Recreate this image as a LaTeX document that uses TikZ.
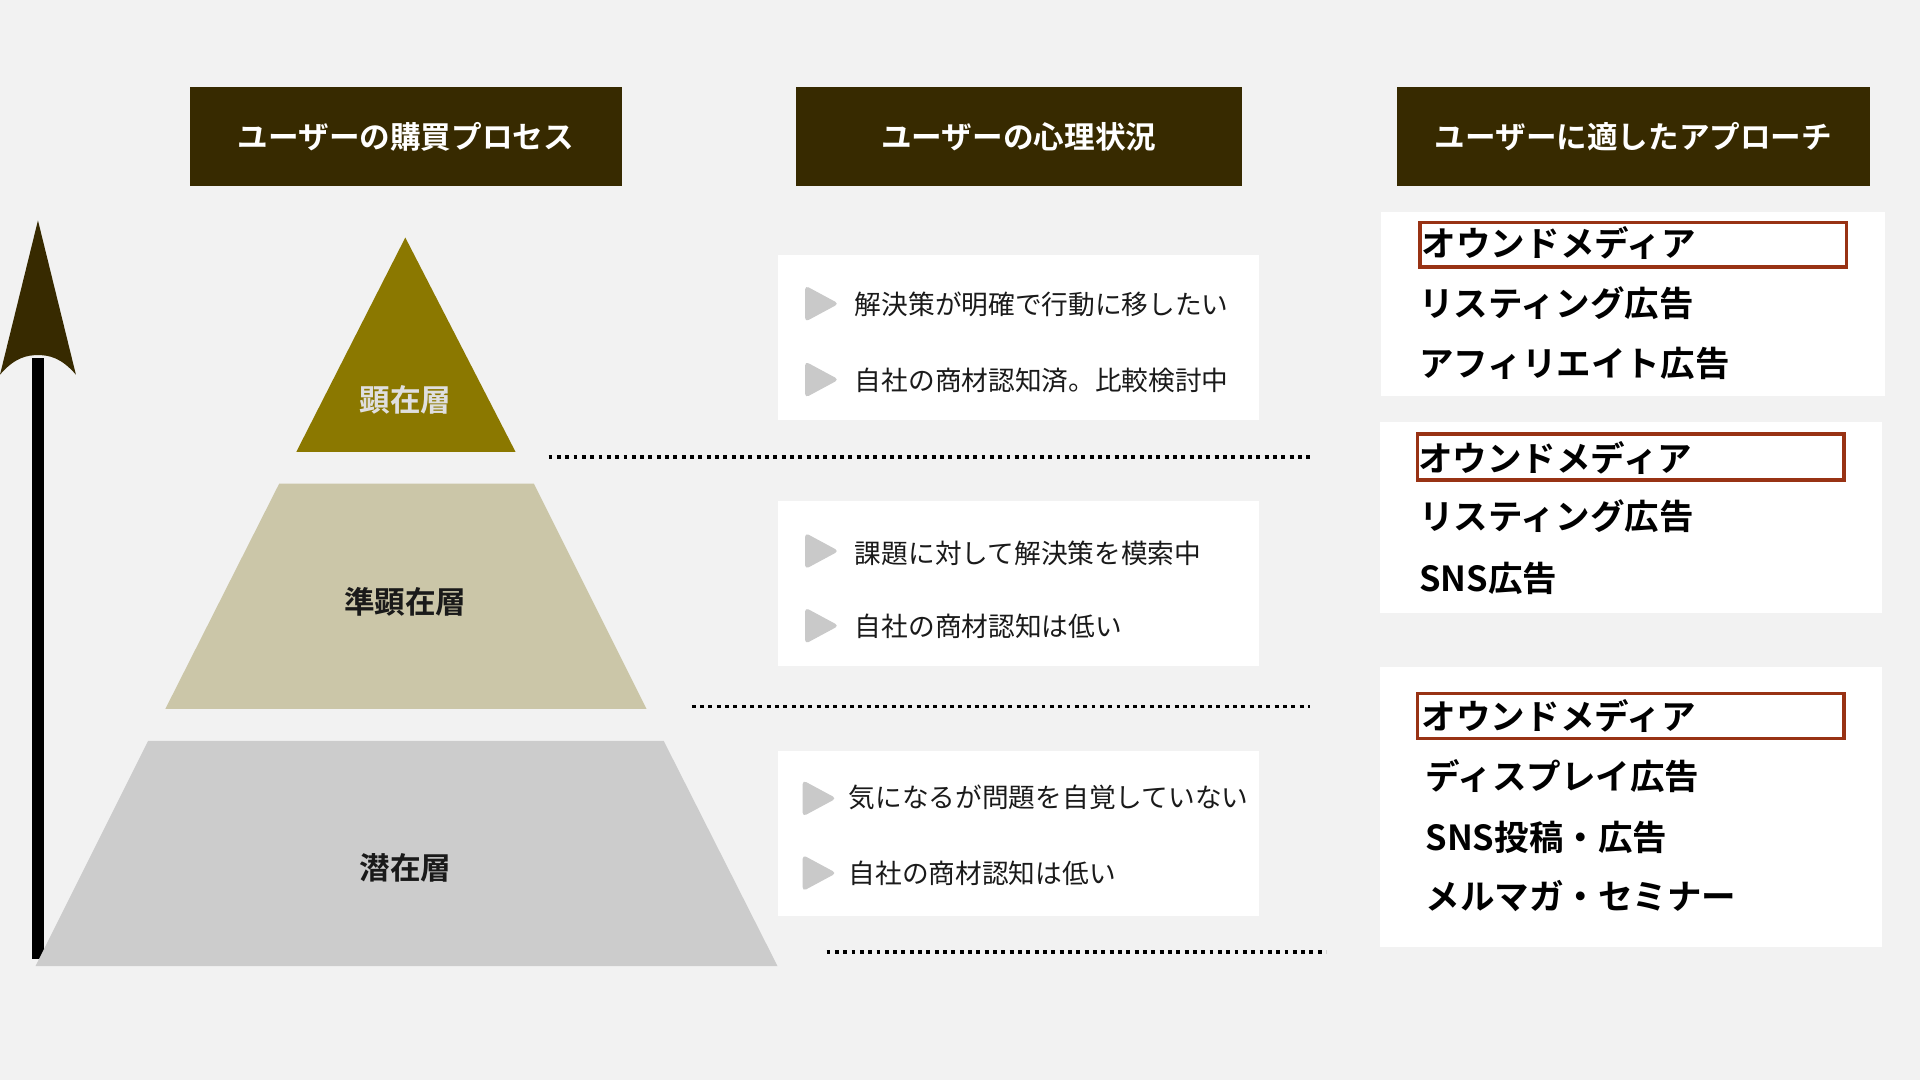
\documentclass[tikz,border=0pt]{standalone}
\usepackage{fontspec}
\newfontfamily\jp{Noto Sans CJK JP}
\newfontfamily\jpb{Noto Sans CJK JP Bold}
\definecolor{bg}{HTML}{F2F2F2}
\definecolor{hdr}{HTML}{372A00}
\definecolor{gold}{HTML}{8B7800}
\definecolor{sand}{HTML}{CBC6A8}
\definecolor{lgray}{HTML}{CCCCCC}
\definecolor{rust}{HTML}{983214}
\definecolor{bul}{HTML}{C9C9C9}
\definecolor{ink}{HTML}{1A1A1A}
\tikzset{
  hdrbox/.style={fill=hdr, draw=none},
  hdrtext/.style={font=\jpb\fontsize{25}{30}\selectfont, text=white, inner sep=0pt},
  wbox/.style={fill=white, draw=none},
  layertext/.style={font=\jpb\fontsize{25}{30}\selectfont, inner sep=0pt},
  mtext/.style={font=\jp\fontsize{21.8}{26}\selectfont, text=ink, inner sep=0pt, anchor=west, text height=0.88em, text depth=0.12em, yshift=-5pt},
  rtext/.style={font=\jpb\fontsize{28.2}{34}\selectfont, text=black, inner sep=0pt, anchor=west, text height=0.88em, text depth=0.12em, yshift=-7pt},
  redbox/.style={draw=rust, line width=2.8pt, fill=none},
  dotline/.style={line width=3.2pt, dash pattern=on 3.2pt off 3.6pt, black},
  bullet/.style={fill=bul, draw=bul, line width=1pt, rounded corners=2.5pt},
}
\begin{document}
\begin{tikzpicture}[x=1pt,y=-1pt]
\fill[bg] (0,0) rectangle (1568,882);
\useasboundingbox (0,0) rectangle (1568,882);

% headers
\fill[hdrbox] (155,71) rectangle (508,152);
\fill[hdrbox] (650,71) rectangle (1014,152);
\fill[hdrbox] (1141,71) rectangle (1527,152);
\node[hdrtext] (h1) at (331.5,112) {ユーザーの購買プロセス};
\node[hdrtext] (h2) at (832,112) {ユーザーの心理状況};
\node[hdrtext] (h3) at (1334,112) {ユーザーに適したアプローチ};

% arrow
\coordinate (arrbot) at (31,783);
\coordinate (arrtop) at (31,292);
\draw[line width=10pt, black] (arrbot) -- (arrtop);
\fill[hdr] (31,180) -- (62,306) .. controls (50,292) and (40,290) .. (31,290)
  .. controls (22,290) and (12,292) .. (0,306) -- cycle;

% pyramid
\fill[gold] (331,194) -- (421,369) -- (242,369) -- cycle;
\fill[sand] (228,395) -- (436,395) -- (528,579) -- (135,579) -- cycle;
\fill[lgray] (121,605) -- (542,605) -- (635,789) -- (29,789) -- cycle;
\node[layertext, text=bg!92!black] (l1) at (331,326.5) {顕在層};
\node[layertext, text=ink] (l2) at (331,491.5) {準顕在層};
\node[layertext, text=ink] (l3) at (331,708.5) {潜在層};

% dotted separators
\draw[dotline] (448,373) -- (1070,373);
\draw[dotline] (565,577) -- (1070,577);
\draw[dotline] (675,777.5) -- (1083,777.5);

% middle boxes
\fill[wbox] (635,208) rectangle (1028,343);
\fill[wbox] (635,409) rectangle (1028,544);
\fill[wbox] (635,613) rectangle (1028,748);

\foreach \yy/\xx in {248/658,310/658,450/658,511/658,652/656,713/656}{
  \fill[bullet] (\xx,\yy-14) -- (\xx+26,\yy) -- (\xx,\yy+14) -- cycle;
}
\node[mtext] (m1) at (698,248) {解決策が明確で行動に移したい};
\node[mtext] (m2) at (698,310) {自社の商材認知済。比較検討中};
\node[mtext] (m3) at (698,451) {課題に対して解決策を模索中};
\node[mtext] (m4) at (698,511) {自社の商材認知は低い};
\node[mtext] (m5) at (693,651) {気になるが問題を自覚していない};
\node[mtext] (m6) at (693,713) {自社の商材認知は低い};

% right boxes
\fill[wbox] (1128,173) rectangle (1539,323);
\fill[wbox] (1127,345) rectangle (1537,501);
\fill[wbox] (1127,545) rectangle (1537,773);

\draw[redbox] (1159.5,181.5) rectangle (1508,218);
\draw[redbox] (1157.5,354.5) rectangle (1506,392);
\draw[redbox] (1157.5,566.5) rectangle (1506,603);

\node[rtext] (r1) at (1161,199) {オウンドメディア};
\node[rtext] (r2) at (1159,248) {リスティング広告};
\node[rtext] (r3) at (1159,297) {アフィリエイト広告};
\node[rtext] (r4) at (1158,374) {オウンドメディア};
\node[rtext] (r5) at (1159,422) {リスティング広告};
\node[rtext] (r6) at (1159,472) {SNS広告};
\node[rtext] (r7) at (1161,585) {オウンドメディア};
\node[rtext] (r8) at (1164,634) {ディスプレイ広告};
\node[rtext] (r9) at (1164,684) {SNS投稿・広告};
\node[rtext] (r10) at (1164,732) {メルマガ・セミナー};
\end{tikzpicture}
\end{document}
